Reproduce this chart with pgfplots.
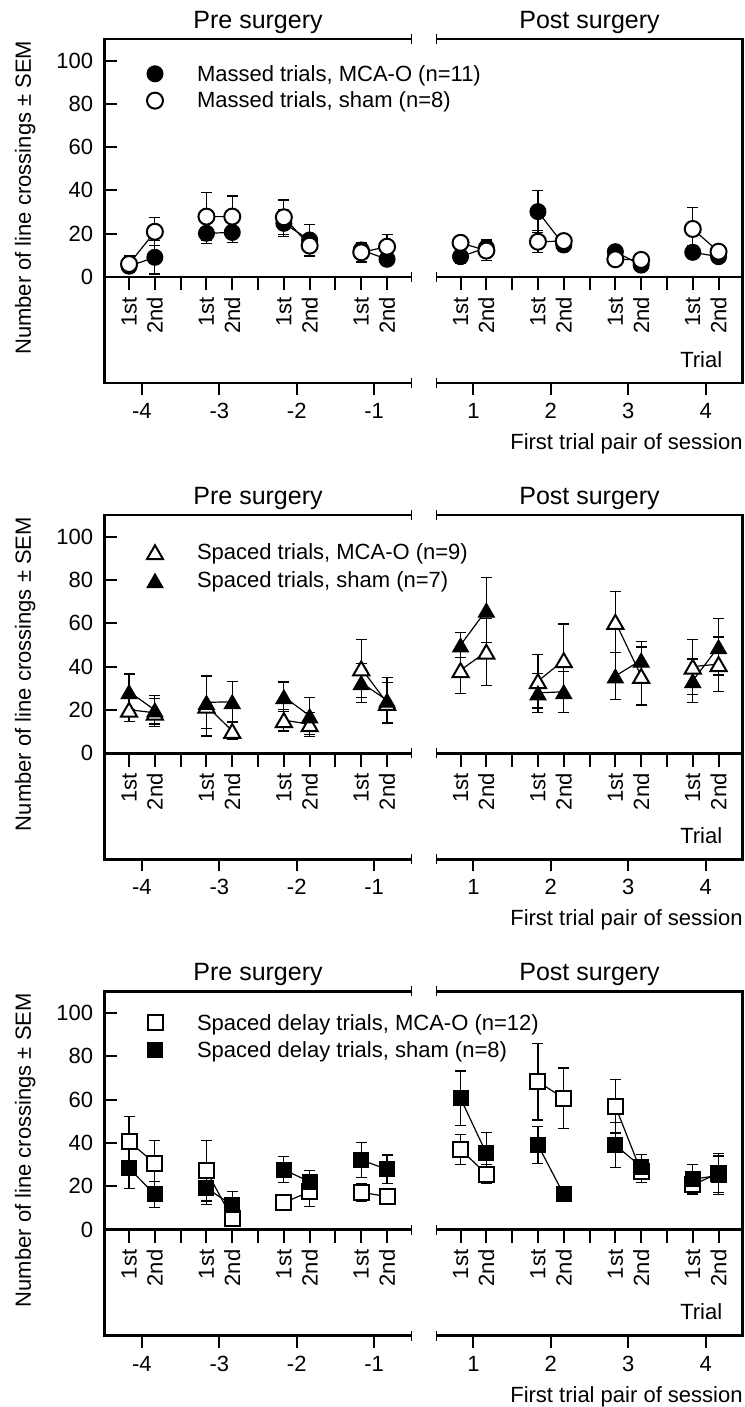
\documentclass[border=0pt]{standalone}
\usepackage{fontspec}
\setmainfont{Liberation Sans}
\usepackage{pgfplots}
\pgfplotsset{compat=1.18}

\newcommand{\fs}{\fontsize{22}{26.4}\selectfont}

\pgfplotsset{
  every axis title shift=0pt,
  base/.style={
    scale only axis, width=306.5pt, height=344.2pt,
    ymin=-49, ymax=110, clip=false,
    axis line style={draw=none},
    font=\fs,
    xtick align=outside, ytick align=inside,
    major tick length=12pt,
    tick style={black, line width=2pt},
    xtick pos=left, ytick pos=left,
    xticklabel style={anchor=base, inner sep=0pt, yshift=-23.4pt, font=\fs},
    yticklabel style={anchor=east, inner sep=0pt, xshift=-11.5pt, font=\fs},
    title style={at={(axis description cs:0.5,1.0307)}, anchor=base, inner sep=0pt, font=\fontsize{25}{30}\selectfont},
    legend image code/.code={\path[draw=none, fill=none] (-10pt,-10pt) rectangle (10pt,10pt); \draw[##1] plot coordinates {(0pt,0pt)};},
    legend cell align=left,
  },
  pre/.style={base, xmin=-4.48, xmax=-0.52,
    xtick={-4,-3,-2,-1}, xticklabels={-4,-3,-2,-1},
    ytick={0,20,40,60,80,100}, yticklabels={0,20,40,60,80,100},
    title={Pre surgery},
    ylabel={Number of line crossings ± SEM},
    ylabel style={at={(axis description cs:-0.2408,0.0816)}, anchor=base west, inner sep=0pt, font=\fs},
  },
  post/.style={base, xmin=0.52, xmax=4.48,
    xtick={1,2,3,4}, xticklabels={1,2,3,4},
    ytick=\empty,
    title={Post surgery},
    xlabel={First trial pair of session},
    xlabel style={at={(axis description cs:1,-0.193)}, anchor=base east, inner sep=0pt, font=\fs},
  },
  leg/.style={legend style={at={(axis description cs:0,1)}, anchor=north west, xshift=40.2pt, yshift=#1,
    draw=none, fill=none, inner sep=0pt, outer sep=0pt, column sep=30pt, font=\fs}},
  ser/.style={black, line width=1.2pt, unbounded coords=jump, forget plot,
    error bars/y dir=both, error bars/y explicit,
    error bars/error bar style={line width=1.2pt, black},
    error bars/error mark options={rotate=90, line width=1.2pt, mark size=5.5pt, black}},
  fcirc/.style={black, mark=*, mark size=8pt, mark options={fill=black, draw=black, line width=1pt}},
  ocirc/.style={black, mark=*, mark size=8pt, mark options={fill=white, draw=black, line width=2pt}},
  otri/.style={black, mark=triangle*, mark size=9.3pt, mark options={fill=white, draw=black, line width=2pt, yshift=-2.3pt}},
  ftri/.style={black, mark=triangle*, mark size=9.3pt, mark options={fill=black, draw=black, line width=1pt, yshift=-2.3pt}},
  osq/.style={black, mark=square*, mark size=7.5pt, mark options={fill=white, draw=black, line width=2pt}},
  fsq/.style={black, mark=square*, mark size=7.5pt, mark options={fill=black, draw=black, line width=1pt}},
}

\newcommand{\preframe}{%
  \draw[line width=2.7pt] (rel axis cs:1,1) -- (rel axis cs:0,1) -- (rel axis cs:0,0) -- (rel axis cs:1,0);
  \draw[line width=2.7pt] (axis cs:-4.48,0) -- (axis cs:-0.52,0);
  \draw[line width=1.5pt] (rel axis cs:1,1) ++(0pt,-5pt) -- ++(0pt,10pt);
  \draw[line width=1.5pt] (rel axis cs:1,0) ++(0pt,-5pt) -- ++(0pt,10pt);
  \draw[line width=1.5pt] (axis cs:-0.52,0) ++(0pt,-5pt) -- ++(0pt,10pt);
  \pgfplotsinvokeforeach{-4.1667,-3.8333,-3.5,-3.1667,-2.8333,-2.5,-2.1667,-1.8333,-1.5,-1.1667,-0.8333}{\draw[line width=2pt] (axis cs:##1,0) -- ++(0pt,-13.3pt);}
  \pgfplotsinvokeforeach{-4.1667,-3.1667,-2.1667,-1.1667}{\node[rotate=90, anchor=east, inner sep=0pt, font=\fs] at (axis cs:##1,-9.24) {1st};}
  \pgfplotsinvokeforeach{-3.8333,-2.8333,-1.8333,-0.8333}{\node[rotate=90, anchor=east, inner sep=0pt, font=\fs] at (axis cs:##1,-9.24) {2nd};}
}
\newcommand{\postframe}{%
  \draw[line width=2.7pt] (rel axis cs:0,1) -- (rel axis cs:1,1) -- (rel axis cs:1,0) -- (rel axis cs:0,0);
  \draw[line width=2.7pt] (axis cs:0.52,0) -- (axis cs:4.48,0);
  \draw[line width=1.5pt] (rel axis cs:0,1) ++(0pt,-5pt) -- ++(0pt,10pt);
  \draw[line width=1.5pt] (rel axis cs:0,0) ++(0pt,-5pt) -- ++(0pt,10pt);
  \draw[line width=1.5pt] (axis cs:0.52,0) ++(0pt,-5pt) -- ++(0pt,10pt);
  \pgfplotsinvokeforeach{0.8333,1.1667,1.5,1.8333,2.1667,2.5,2.8333,3.1667,3.5,3.8333,4.1667}{\draw[line width=2pt] (axis cs:##1,0) -- ++(0pt,-13.3pt);}
  \pgfplotsinvokeforeach{0.8333,1.8333,2.8333,3.8333}{\node[rotate=90, anchor=east, inner sep=0pt, font=\fs] at (axis cs:##1,-9.24) {1st};}
  \pgfplotsinvokeforeach{1.1667,2.1667,3.1667,4.1667}{\node[rotate=90, anchor=east, inner sep=0pt, font=\fs] at (axis cs:##1,-9.24) {2nd};}
  \node[anchor=base east, inner sep=0pt, font=\fs] at (rel axis cs:0.9335,0.0459) {Trial};
}

\begin{document}
\begin{tikzpicture}
\path[use as bounding box] (0pt,0pt) rectangle (744pt,1407pt);

% ================= Panel 1: Massed =================
\begin{axis}[pre, leg=-24.2pt, legend style={row sep=5.4pt}, at={(104.8pt,1023.9pt)}, anchor=south west]
\preframe
\addplot[ser, fcirc] table[x=x, y=y, y error=e, row sep=\\] {
x y e\\
-4.1667 5 3\\ -3.8333 9.1 7.7\\ nan nan nan\\
-3.1667 20.2 4.6\\ -2.8333 20.6 4.6\\ nan nan nan\\
-2.1667 24.8 6.2\\ -1.8333 17.1 7\\ nan nan nan\\
-1.1667 12.5 3\\ -0.8333 8.2 2.5\\
};
\addplot[ser, ocirc] table[x=x, y=y, y error=e, row sep=\\] {
x y e\\
-4.1667 6 3.7\\ -3.8333 20.9 6.5\\ nan nan nan\\
-3.1667 27.9 11\\ -2.8333 27.9 9.5\\ nan nan nan\\
-2.1667 27.6 8\\ -1.8333 14.5 5\\ nan nan nan\\
-1.1667 11.4 4.5\\ -0.8333 14.0 5.7\\
};
\addlegendimage{fcirc}
\addlegendentry{Massed trials, MCA-O (n=11)}
\addlegendimage{ocirc}
\addlegendentry{Massed trials, sham (n=8)}
\end{axis}

\begin{axis}[post, at={(436.3pt,1023.9pt)}, anchor=south west]
\postframe
\addplot[ser, fcirc] table[x=x, y=y, y error=e, row sep=\\] {
x y e\\
0.8333 9.4 3\\ 1.1667 13.5 4\\ nan nan nan\\
1.8333 30.2 9.7\\ 2.1667 14.8 3\\ nan nan nan\\
2.8333 11.7 2.5\\ 3.1667 5.5 2.5\\ nan nan nan\\
3.8333 11.4 3\\ 4.1667 9.4 2.5\\
};
\addplot[ser, ocirc] table[x=x, y=y, y error=e, row sep=\\] {
x y e\\
0.8333 15.8 3\\ 1.1667 12.2 4.4\\ nan nan nan\\
1.8333 16.3 5\\ 2.1667 16.6 3\\ nan nan nan\\
2.8333 8.2 2.5\\ 3.1667 7.9 2.5\\ nan nan nan\\
3.8333 22.2 10\\ 4.1667 11.7 3\\
};
\end{axis}

% ================= Panel 2: Spaced =================
\begin{axis}[pre, leg=-26.4pt, legend style={row sep=7pt}, at={(104.8pt,547.65pt)}, anchor=south west]
\preframe
\addplot[ser, otri] table[x=x, y=y, y error=e, row sep=\\] {
x y e\\
-4.1667 20.1 5.5\\ -3.8333 18.7 6.5\\ nan nan nan\\
-3.1667 22 14\\ -2.8333 10.3 4\\ nan nan nan\\
-2.1667 15.3 5\\ -1.8333 13.4 5.5\\ nan nan nan\\
-1.1667 39.2 13.4\\ -0.8333 23.3 9.5\\
};
\addplot[ser, ftri] table[x=x, y=y, y error=e, row sep=\\] {
x y e\\
-4.1667 28.4 8.2\\ -3.8333 20 6.5\\ nan nan nan\\
-3.1667 23.5 12\\ -2.8333 23.8 9.4\\ nan nan nan\\
-2.1667 26.1 6.8\\ -1.8333 17.3 8.5\\ nan nan nan\\
-1.1667 32.6 9\\ -0.8333 24.5 10.5\\
};
\addlegendimage{otri}
\addlegendentry{Spaced trials, MCA-O (n=9)}
\addlegendimage{ftri}
\addlegendentry{Spaced trials, sham (n=7)}
\end{axis}

\begin{axis}[post, at={(436.3pt,547.65pt)}, anchor=south west]
\postframe
\addplot[ser, otri] table[x=x, y=y, y error=e, row sep=\\] {
x y e\\
0.8333 38.4 10.7\\ 1.1667 46.9 15.5\\ nan nan nan\\
1.8333 33.3 12.4\\ 2.1667 43 16.7\\ nan nan nan\\
2.8333 60.7 14\\ 3.1667 35.7 13.4\\ nan nan nan\\
3.8333 40 12.7\\ 4.1667 41.2 12.5\\
};
\addplot[ser, ftri] table[x=x, y=y, y error=e, row sep=\\] {
x y e\\
0.8333 50 5.7\\ 1.1667 66.1 15\\ nan nan nan\\
1.8333 27.9 9\\ 2.1667 28.4 9.5\\ nan nan nan\\
2.8333 35.7 11\\ 3.1667 43 8.5\\ nan nan nan\\
3.8333 33.5 10\\ 4.1667 49.2 13\\
};
\end{axis}

% ================= Panel 3: Spaced delay =================
\begin{axis}[pre, leg=-20.7pt, legend style={row sep=6.1pt}, at={(104.8pt,71.4pt)}, anchor=south west]
\preframe
\addplot[ser, osq] table[x=x, y=y, y error=e, row sep=\\] {
x y e\\
-4.1667 40.6 11.5\\ -3.8333 30.6 10.7\\ nan nan nan\\
-3.1667 27.2 14\\ -2.8333 5 3\\ nan nan nan\\
-2.1667 12.4 2.5\\ -1.8333 17.5 7\\ nan nan nan\\
-1.1667 17.2 4\\ -0.8333 15.2 3.7\\
};
\addplot[ser, fsq] table[x=x, y=y, y error=e, row sep=\\] {
x y e\\
-4.1667 28.3 9.3\\ -3.8333 16.2 6\\ nan nan nan\\
-3.1667 19.1 7.5\\ -2.8333 11.3 6.2\\ nan nan nan\\
-2.1667 27.6 6\\ -1.8333 22.1 5\\ nan nan nan\\
-1.1667 32.1 8.2\\ -0.8333 27.8 6.6\\
};
\addlegendimage{osq}
\addlegendentry{Spaced delay trials, MCA-O (n=12)}
\addlegendimage{fsq}
\addlegendentry{Spaced delay trials, sham (n=8)}
\end{axis}

\begin{axis}[post, at={(436.3pt,71.4pt)}, anchor=south west]
\postframe
\addplot[ser, osq] table[x=x, y=y, y error=e, row sep=\\] {
x y e\\
0.8333 37 6.8\\ 1.1667 25.6 4.3\\ nan nan nan\\
1.8333 68.3 17.7\\ 2.1667 60.6 14\\ nan nan nan\\
2.8333 57 12.4\\ 3.1667 26.7 5\\ nan nan nan\\
3.8333 20.6 4\\ 4.1667 26 9\\
};
\addplot[ser, fsq] table[x=x, y=y, y error=e, row sep=\\] {
x y e\\
0.8333 60.6 12.6\\ 1.1667 35.2 9.7\\ nan nan nan\\
1.8333 39 8.5\\ 2.1667 16.2 1\\ nan nan nan\\
2.8333 39 10.3\\ 3.1667 29 5.5\\ nan nan nan\\
3.8333 23.2 7\\ 4.1667 25 9\\
};
\end{axis}

\end{tikzpicture}
\end{document}
